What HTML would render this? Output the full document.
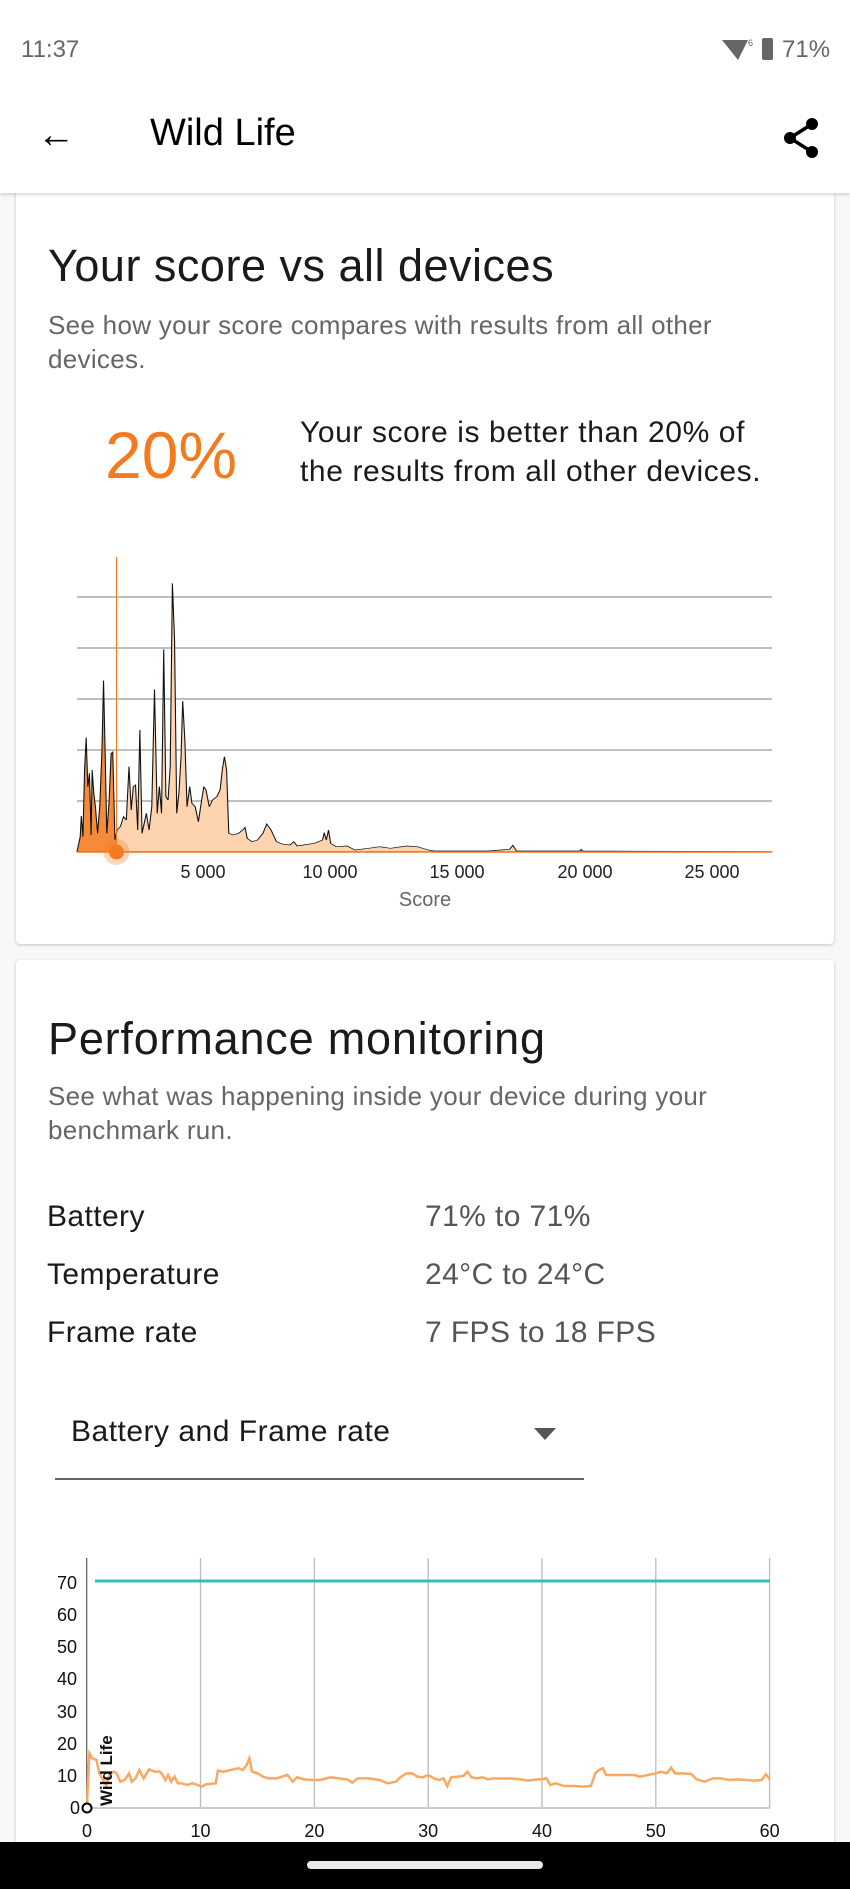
<!DOCTYPE html>
<html><head><meta charset="utf-8"><style>
html,body{margin:0;padding:0;width:850px;height:1889px;overflow:hidden;}
body{position:relative;background:#f8f8f8;font-family:"Liberation Sans",sans-serif;}
.abs{position:absolute;white-space:nowrap;}
.card{position:absolute;left:16px;width:818px;background:#fff;border-radius:4px;box-shadow:0 1px 3px rgba(0,0,0,0.22);}
</style></head><body>
<div class="card" style="top:150px;height:794px;"></div>
<div class="card" style="top:960px;height:929px;"></div>
<div class="abs" style="left:0;top:0;width:850px;height:193px;background:#fff;box-shadow:0 2px 3px rgba(0,0,0,0.15);"></div>
<div class="abs" style="left:21px;top:36px;font-size:24px;color:#666;">11:37</div>
<div class="abs" style="left:782px;top:36px;font-size:24px;color:#666;">71%</div>
<div class="abs" style="left:762px;top:38px;width:11px;height:22px;background:#666;border-radius:2px;"></div>
<svg class="abs" style="left:720px;top:36px" width="36" height="26"><path d="M2 4 L28 4 L18 24 Z" fill="#666"/><text x="28" y="10" font-size="9" fill="#666">6</text></svg>
<div class="abs" style="left:37px;top:112px;font-size:38px;color:#000;line-height:46px;">&#8592;</div>
<div class="abs" style="left:150px;top:112px;font-size:38px;color:#000;">Wild Life</div>
<svg class="abs" style="left:782px;top:116px" width="40" height="44"><circle cx="30" cy="8" r="6"/><circle cx="30" cy="36" r="6"/><circle cx="8" cy="22" r="6"/><path d="M30 8 L8 22 L30 36" stroke="#000" stroke-width="3.5" fill="none"/></svg>

<div class="abs" style="left:48px;top:240px;font-size:45px;letter-spacing:0.5px;color:#1a1a1a;">Your score vs all devices</div>
<div class="abs" style="left:48px;top:308px;font-size:26px;letter-spacing:0.3px;color:#666;line-height:34px;">See how your score compares with results from all other<br>devices.</div>
<div class="abs" style="left:105px;top:417px;font-size:66px;color:#f47a20;">20%</div>
<div class="abs" style="left:300px;top:413px;font-size:30px;letter-spacing:0.6px;color:#1a1a1a;line-height:39px;">Your score is better than 20% of<br>the results from all other devices.</div>

<div class="abs" style="left:48px;top:1013px;font-size:45px;letter-spacing:0.8px;color:#1a1a1a;">Performance monitoring</div>
<div class="abs" style="left:48px;top:1079px;font-size:26px;letter-spacing:0.3px;color:#666;line-height:34px;">See what was happening inside your device during your<br>benchmark run.</div>
<div class="abs" style="left:47px;top:1188px;font-size:30px;letter-spacing:0.4px;color:#1a1a1a;line-height:58px;">Battery<br>Temperature<br>Frame rate</div>
<div class="abs" style="left:425px;top:1188px;font-size:30px;letter-spacing:0.4px;color:#555;line-height:58px;">71% to 71%<br>24°C to 24°C<br>7 FPS to 18 FPS</div>
<div class="abs" style="left:71px;top:1415px;font-size:30px;letter-spacing:0.5px;color:#1a1a1a;">Battery and Frame rate</div>
<svg class="abs" style="left:534px;top:1428px" width="22" height="14"><path d="M0 0 L22 0 L11 12Z" fill="#555"/></svg>
<div class="abs" style="left:55px;top:1478px;width:529px;height:2px;background:#666;"></div>

<svg class="abs" style="left:0;top:0" width="850" height="1889">
<defs>
<clipPath id="cl"><rect x="0" y="0" width="215" height="2000"/></clipPath>
<clipPath id="cr"><rect x="215" y="0" width="2000" height="2000"/></clipPath>
<path id="h" d="M142,935 L148,890 L150,828 L153,890 L156,690 L159,593 L162,740 L165,700 L168,885 L170,690 L173,760 L176,800 L180,880 L184,800 L188,635 L191,422 L194,640 L197,880 L201,790 L205,640 L208,636 L212,900 L216,870 L222,860 L228,830 L233,840 L238,680 L242,810 L246,740 L250,735 L254,870 L258,570 L262,880 L266,850 L270,820 L275,870 L280,800 L285,448 L290,820 L294,740 L298,820 L302,328 L306,770 L310,780 L314,680 L318,130 L322,300 L326,820 L330,760 L334,650 L337,483 L341,600 L345,800 L350,740 L354,790 L360,800 L366,845 L372,780 L376,740 L380,750 L386,800 L392,780 L400,770 L406,750 L410,690 L414,650 L418,690 L422,880 L430,885 L440,880 L448,870 L452,862 L456,895 L465,905 L475,900 L485,880 L492,852 L500,870 L510,905 L520,912 L535,915 L542,905 L548,918 L560,915 L580,910 L595,900 L598,878 L602,900 L606,870 L610,910 L620,920 L640,918 L655,930 L680,925 L700,920 L720,925 L750,918 L770,920 L790,930 L800,933 L900,933 L940,928 L946,916 L953,933 L1070,933 L1072,928 L1075,933 L1425,935 Z"/>
</defs>
<g stroke="#aaa" stroke-width="1.5">
<line x1="77" x2="772" y1="597" y2="597"/><line x1="77" x2="772" y1="648" y2="648"/><line x1="77" x2="772" y1="699" y2="699"/><line x1="77" x2="772" y1="750" y2="750"/><line x1="77" x2="772" y1="801" y2="801"/>
</g>
<g transform="translate(0,540) scale(0.5421,0.33333)">
<use href="#h" fill="#f58a3a" clip-path="url(#cl)"/>
<use href="#h" fill="#fdd3b0" clip-path="url(#cr)"/>
<use href="#h" fill="none" stroke="#111" stroke-width="2" vector-effect="non-scaling-stroke"/>
</g>
<line x1="77" x2="772" y1="852" y2="852" stroke="#f47a20" stroke-width="1.5"/>
<line x1="116.5" x2="116.5" y1="557" y2="852" stroke="#f47a20" stroke-width="1.2"/>
<circle cx="116.5" cy="852" r="13" fill="#f47a20" opacity="0.3"/>
<circle cx="116.5" cy="852" r="7.5" fill="#f47a20"/>
<g font-size="18" fill="#222" text-anchor="middle">
<text x="203" y="878">5 000</text><text x="330" y="878">10 000</text><text x="457" y="878">15 000</text><text x="585" y="878">20 000</text><text x="712" y="878">25 000</text>
</g>
<text x="425" y="906" font-size="20" fill="#666" text-anchor="middle">Score</text>

<g stroke="#bbb" stroke-width="1.3">
<line x1="200.5" x2="200.5" y1="1558" y2="1808"/><line x1="314.4" x2="314.4" y1="1558" y2="1808"/><line x1="428.2" x2="428.2" y1="1558" y2="1808"/><line x1="542" x2="542" y1="1558" y2="1808"/><line x1="655.8" x2="655.8" y1="1558" y2="1808"/><line x1="769.6" x2="769.6" y1="1558" y2="1808"/>
<line x1="87" x2="770" y1="1808" y2="1808" stroke="#ccc" stroke-width="2"/>
</g>
<line x1="86.7" x2="86.7" y1="1558" y2="1808" stroke="#666" stroke-width="1.3"/>
<line x1="95" x2="770" y1="1581" y2="1581" stroke="#3cbcb5" stroke-width="3"/>
<g transform="translate(0,1540) scale(0.5421,0.33333)">
<path d="M160,805 L165,640 L170,655 L178,660 L183,700 L190,720 L196,735 L203,700 L210,695 L215,700 L222,725 L230,720 L238,700 L243,725 L250,715 L257,690 L265,715 L275,688 L285,695 L295,695 L300,705 L305,720 L310,705 L316,725 L322,710 L328,730 L335,730 L345,735 L355,730 L365,735 L372,740 L380,733 L398,730 L402,692 L412,695 L425,690 L440,685 L448,690 L455,675 L460,655 L465,695 L475,700 L485,710 L495,715 L510,715 L520,710 L530,705 L540,725 L548,712 L560,718 L575,720 L590,720 L610,712 L625,715 L640,718 L650,728 L660,715 L680,715 L700,720 L715,730 L730,725 L740,710 L750,700 L760,700 L770,710 L780,712 L790,705 L800,715 L810,720 L818,715 L825,738 L832,712 L845,710 L855,708 L862,695 L870,712 L880,715 L890,712 L900,718 L910,715 L930,716 L945,715 L960,718 L975,722 L990,718 L1000,718 L1008,715 L1015,735 L1025,730 L1040,738 L1060,738 L1075,740 L1090,738 L1098,700 L1105,690 L1112,685 L1118,705 L1130,705 L1150,705 L1170,705 L1180,710 L1195,705 L1210,700 L1220,695 L1230,700 L1238,683 L1245,700 L1260,700 L1275,702 L1285,718 L1300,725 L1315,715 L1330,715 L1345,720 L1360,718 L1375,720 L1390,722 L1405,720 L1413,703 L1420,718" fill="none" stroke="#fba862" stroke-width="2.5" vector-effect="non-scaling-stroke"/>
</g>
<circle cx="87" cy="1808" r="4.5" fill="#fff" stroke="#000" stroke-width="2"/>
<g font-size="18" fill="#111" text-anchor="end">
<text x="77" y="1589">70</text><text x="77" y="1621">60</text><text x="77" y="1653">50</text><text x="77" y="1685">40</text><text x="77" y="1718">30</text><text x="77" y="1750">20</text><text x="77" y="1782">10</text><text x="80" y="1814">0</text>
</g>
<g font-size="18" fill="#111" text-anchor="middle">
<text x="87" y="1837">0</text><text x="200.5" y="1837">10</text><text x="314.4" y="1837">20</text><text x="428.2" y="1837">30</text><text x="542" y="1837">40</text><text x="655.8" y="1837">50</text><text x="769.6" y="1837">60</text>
</g>
<text transform="translate(112,1806) rotate(-90)" font-size="17" font-weight="bold" fill="#111">Wild Life</text>
<rect x="0" y="1842" width="850" height="47" fill="#000"/>
<rect x="307" y="1861" width="236" height="8" rx="4" fill="#e8e8e8"/>
</svg>
</body></html>
